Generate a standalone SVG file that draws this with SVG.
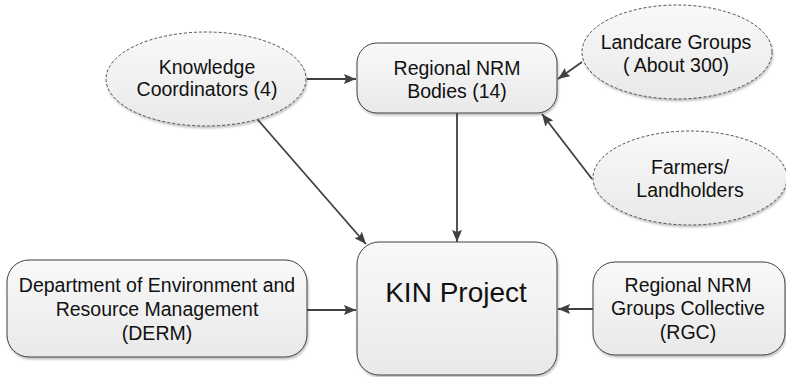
<svg xmlns="http://www.w3.org/2000/svg" width="786" height="377" viewBox="0 0 786 377">
<defs>
<linearGradient id="g" x1="0" y1="0" x2="0" y2="1">
<stop offset="0" stop-color="#f9f9f9"/>
<stop offset="1" stop-color="#e9e9e9"/>
</linearGradient>
<filter id="sh" x="-10%" y="-10%" width="120%" height="130%">
<feDropShadow dx="1" dy="2" stdDeviation="1.2" flood-color="#000" flood-opacity="0.25"/>
</filter>
<marker id="ah" viewBox="0 0 12 10" refX="12" refY="5" markerWidth="12" markerHeight="10" markerUnits="userSpaceOnUse" orient="auto">
<path d="M0,0 L12,5 L0,10 L2,5 Z" fill="#404040"/>
</marker>
</defs>
<style>
.box{fill:url(#g);stroke:#404040;stroke-width:1;filter:url(#sh)}
.ell{fill:url(#g);stroke:#505050;stroke-width:1;stroke-dasharray:3 2;filter:url(#sh)}
.t{font-family:"Liberation Sans",Arial,sans-serif;font-size:19.5px;fill:#111;text-anchor:middle}
.big{font-size:28px}
.c{stroke:#404040;stroke-width:1.8;fill:none;marker-end:url(#ah)}
</style>
<g id="connectors">
<line class="c" x1="307" y1="79" x2="356" y2="79"/>
<line class="c" x1="582" y1="62" x2="558" y2="79"/>
<line class="c" x1="592" y1="179" x2="542" y2="114"/>
<line class="c" x1="258" y1="120" x2="366" y2="244"/>
<line class="c" x1="457" y1="113" x2="457" y2="242"/>
<line class="c" x1="307" y1="310" x2="356" y2="310"/>
<line class="c" x1="593" y1="309" x2="558" y2="309"/>
</g>
<g id="knowledge-coordinators">
<ellipse class="ell" cx="206" cy="79" rx="100" ry="47"/>
<text class="t" x="207" y="74">Knowledge</text>
<text class="t" x="207" y="96">Coordinators (4)</text>
</g>
<g id="regional-nrm-bodies">
<rect class="box" x="357" y="43" width="200" height="70" rx="20"/>
<text class="t" x="457" y="75">Regional NRM</text>
<text class="t" x="457" y="98">Bodies (14)</text>
</g>
<g id="landcare-groups">
<ellipse class="ell" cx="677" cy="52" rx="95" ry="47"/>
<text class="t" x="676" y="49">Landcare Groups</text>
<text class="t" x="676" y="72">( About 300)</text>
</g>
<g id="farmers">
<ellipse class="ell" cx="690" cy="178" rx="97" ry="47"/>
<text class="t" x="690" y="174">Farmers/</text>
<text class="t" x="690" y="197">Landholders</text>
</g>
<g id="kin-project">
<rect class="box" x="357" y="242" width="200" height="133" rx="22"/>
<text class="t big" x="456" y="302">KIN Project</text>
</g>
<g id="derm">
<rect class="box" x="7" y="260" width="300" height="97" rx="22"/>
<text class="t" x="157" y="292">Department of Environment and</text>
<text class="t" x="157" y="316">Resource Management</text>
<text class="t" x="157" y="340">(DERM)</text>
</g>
<g id="rgc">
<rect class="box" x="593" y="262" width="192" height="93" rx="22"/>
<text class="t" x="688" y="292">Regional NRM</text>
<text class="t" x="688" y="315">Groups Collective</text>
<text class="t" x="688" y="339">(RGC)</text>
</g>
</svg>
